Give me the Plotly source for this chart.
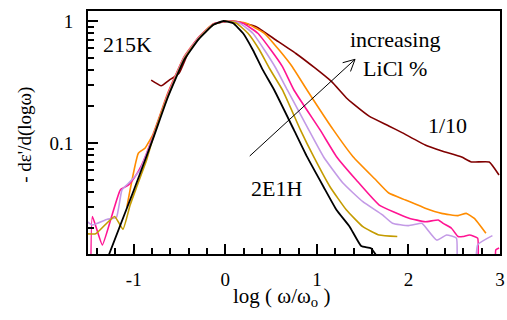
import math
import plotly.graph_objects as go

# ---------------- data ----------------
x_black = [-1.272, -1.0, -0.79, -0.63, -0.45, -0.29, -0.13, -0.02, 0.086, 0.194, 0.301, 0.409,
           0.534, 0.749, 0.892, 1.072, 1.215, 1.358, 1.484, 1.591, 1.645]
y_black = [0.0121, 0.041, 0.108, 0.235, 0.48, 0.71, 0.93, 1.0, 0.957, 0.793, 0.578, 0.397,
           0.272, 0.128, 0.0772, 0.0438, 0.0282, 0.0206, 0.0143, 0.0137, 0.0121]

x_olive = [-1.505, -1.416, -1.21, -1.118, -1.04, -0.968, -0.86, -0.79, -0.63, -0.45, -0.29, -0.13,
           0.0, 0.122, 0.247, 0.373, 0.481, 0.624, 0.82, 0.965, 1.143, 1.323, 1.502, 1.681, 1.878]
y_olive = [0.018, 0.018, 0.025, 0.0196, 0.031, 0.0438, 0.0726, 0.11, 0.24, 0.49, 0.72, 0.935,
           1.0, 0.957, 0.793, 0.578, 0.41, 0.272, 0.128, 0.0772, 0.0438, 0.0282, 0.0206, 0.0176, 0.0171]

x_lav = [-1.505, -1.452, -1.29, -1.19, -1.129, -1.04, -0.932, -0.842, -0.79, -0.63, -0.45, -0.29,
         -0.13, 0.02, 0.158, 0.301, 0.427, 0.552, 0.677, 0.911, 1.072, 1.287, 1.502, 1.717, 1.825,
         2.0, 2.147, 2.183, 2.309, 2.416, 2.524, 2.53, 2.69, 2.756, 2.917]
y_lav = [0.0226, 0.0213, 0.0237, 0.0245, 0.0412, 0.0482, 0.060, 0.0877, 0.112, 0.245, 0.50, 0.73,
         0.94, 1.0, 0.957, 0.793, 0.578, 0.41, 0.272, 0.128, 0.0772, 0.0467, 0.033, 0.0257, 0.022,
         0.021, 0.022, 0.0206, 0.016, 0.0176, 0.0166, 0.003, 0.003, 0.0146, 0.0174]

x_pink = [-1.47, -1.452, -1.344, -1.237, -1.147, -1.057, -0.986, -0.914, -0.86, -0.79, -0.63, -0.45,
          -0.29, -0.13, 0.04, 0.194, 0.355, 0.498, 0.624, 0.749, 1.035, 1.215, 1.43, 1.681, 2.0,
          2.183, 2.326, 2.38, 2.47, 2.541, 2.595, 2.667, 2.756, 2.76, 2.94, 2.954, 2.99]
y_pink = [0.003, 0.0249, 0.0146, 0.0257, 0.0412, 0.0453, 0.053, 0.066, 0.0824, 0.114, 0.25, 0.505,
          0.735, 0.945, 1.0, 0.957, 0.793, 0.578, 0.422, 0.272, 0.128, 0.0772, 0.0497, 0.031, 0.0243,
          0.0226, 0.0234, 0.0219, 0.020, 0.0171, 0.0171, 0.0176, 0.0166, 0.003, 0.003, 0.0133, 0.0138]

x_orange = [-1.075, -0.95, -0.878, -0.79, -0.63, -0.45, -0.29, -0.13, 0.06, 0.229, 0.427, 0.588,
            0.731, 0.892, 1.18, 1.395, 1.645, 1.785, 1.968, 2.183, 2.362, 2.541, 2.631, 2.72, 2.846]
y_orange = [0.030, 0.0824, 0.0905, 0.118, 0.255, 0.51, 0.74, 0.95, 1.0, 0.957, 0.793, 0.578,
            0.422, 0.272, 0.128, 0.0772, 0.0497, 0.0389, 0.0341, 0.0292, 0.0265, 0.0254, 0.0265, 0.0241, 0.0182]

x_maroon = [-0.81, -0.70, -0.613, -0.505, -0.40, -0.29, -0.13, 0.05, 0.122, 0.337, 0.552, 0.767,
            0.982, 1.161, 1.323, 1.398, 1.57, 1.785, 1.935, 2.183, 2.366, 2.581, 2.688, 2.882, 2.989]
y_maroon = [0.328, 0.295, 0.328, 0.373, 0.56, 0.73, 0.94, 1.0, 0.99, 0.898, 0.699, 0.544,
            0.41, 0.318, 0.234, 0.209, 0.166, 0.138, 0.121, 0.0963, 0.086, 0.0767, 0.0699, 0.0699, 0.0547]

x_tickvals = [-1, 0, 1, 2, 3]
x_ticktext = ["-1", "0", "1", "2", "3"]
y_tickvals = [0.1, 1]
y_ticktext = ["0.1", "1"]
y_minorvals = [0.02, 0.03, 0.04, 0.05, 0.06, 0.07, 0.08, 0.09,
               0.2, 0.3, 0.4, 0.5, 0.6, 0.7, 0.8, 0.9]

# ---------------- figure ----------------
W, H = 507, 320
L, R, T, B = 88, 2, 11, 66
PW, PH = W - L - R, H - T - B
FONT = "Times New Roman, Liberation Serif, Tinos, serif"


def paper(px, py):
    return (px - L) / PW, (T + PH - py) / PH


series = [
    (x_maroon, y_maroon, "#800000", 1.6),
    (x_orange, y_orange, "#ff8c00", 1.6),
    (x_pink, y_pink, "#ff1493", 1.6),
    (x_lav, y_lav, "#c39ae6", 1.6),
    (x_olive, y_olive, "#c49b00", 1.6),
    (x_black, y_black, "#000000", 1.8),
]

fig = go.Figure()
for xs, ys, col, w in series:
    fig.add_trace(go.Scatter(x=xs, y=ys, mode="lines", line_shape="spline",
                             line=dict(color=col, width=w, smoothing=0.4), showlegend=False,
                             hoverinfo="skip"))

fig.update_layout(
    width=W, height=H,
    margin=dict(l=L, r=R, t=T, b=B),
    paper_bgcolor="white", plot_bgcolor="white",
    font=dict(family=FONT, color="black", size=19),
    xaxis=dict(range=[-1.5, 3.0], tickmode="array", tickvals=x_tickvals, ticktext=x_ticktext,
               ticks="inside", ticklen=10, tickwidth=2, tickcolor="black",
               showline=True, linewidth=2, linecolor="black", mirror=True,
               showgrid=False, zeroline=False, ticklabelstandoff=7,
               ticklabeloverflow="allow",
               tickfont=dict(family=FONT, size=19, color="black"),
               minor=dict(ticks="inside", ticklen=6, tickwidth=1.5, tickcolor="black",
                          dtick=0.2, tick0=0, showgrid=False)),
    yaxis=dict(type="log", range=[-1.910, 0.082], tickmode="array",
               tickvals=y_tickvals, ticktext=y_ticktext,
               ticks="inside", ticklen=10, tickwidth=2, tickcolor="black",
               showline=True, linewidth=2, linecolor="black", mirror=True,
               showgrid=False, zeroline=False, ticklabelstandoff=9,
               tickfont=dict(family=FONT, size=19, color="black"),
               minor=dict(ticks="inside", ticklen=6, tickwidth=1.5, tickcolor="black",
                          tickmode="array", tickvals=y_minorvals, showgrid=False)),
)

ann = []


def label(text, px, py, size=22, angle=0):
    x, y = paper(px, py)
    ann.append(dict(text=text, x=x, y=y, xref="paper", yref="paper", showarrow=False,
                    xanchor="center", yanchor="middle", textangle=angle,
                    font=dict(family=FONT, size=size, color="black")))


label("215K", 128, 44)
label("increasing<br>LiCl %", 399, 54)
label("1/10", 452, 126)
label("2E1H", 279, 188)
label("log ( ω/ω<sub>o</sub> )", 284, 297, size=21)
label("- dε'/d(logω)", 24, 135, size=19, angle=-90)
fig.update_layout(annotations=ann)

# arrow (decoration, in pixel positions)
tail = (251.7, 156.0)
head = (358.3, 59.3)
shapes = []


def seg(p0, p1):
    x0, y0 = paper(*p0)
    x1, y1 = paper(*p1)
    shapes.append(dict(type="line", xref="paper", yref="paper", x0=x0, y0=y0, x1=x1, y1=y1,
                       line=dict(color="black", width=1)))


seg(tail, head)
ang = math.atan2(tail[1] - head[1], tail[0] - head[0])
for d in (math.radians(27), -math.radians(27)):
    a = ang + d
    seg(head, (head[0] + 13 * math.cos(a), head[1] + 13 * math.sin(a)))
fig.update_layout(shapes=shapes)

fig.write_html("out.html")
